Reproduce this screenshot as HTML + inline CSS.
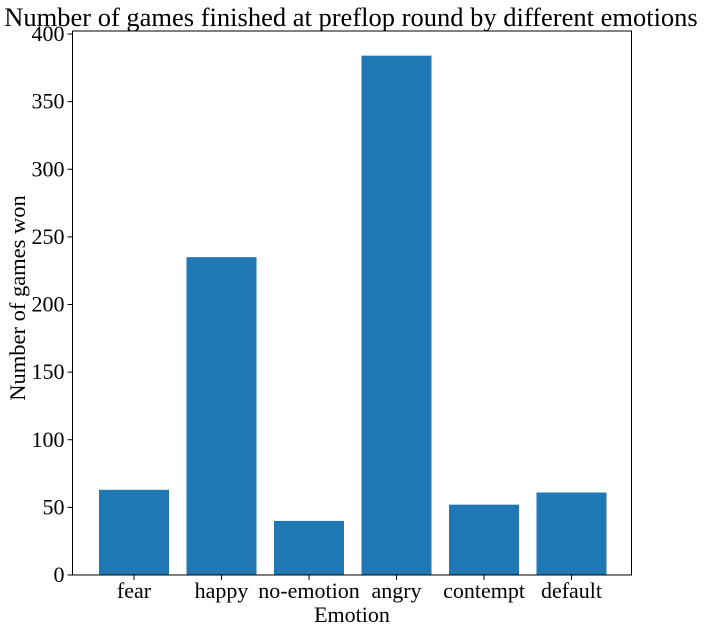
<!DOCTYPE html>
<html><head><meta charset="utf-8"><style>
body{margin:0;background:#fff;}
svg text{font-family:"Liberation Serif",serif;fill:#000;}
</style></head><body>
<svg id="chart" width="704" height="633" xmlns="http://www.w3.org/2000/svg">
<rect width="704" height="633" fill="#fff"/>
<text x="351" y="26" font-size="26.5" text-anchor="middle">Number of games finished at preflop round by different emotions</text>
<g id="plot"></g>
<text x="352" y="622" font-size="22" text-anchor="middle">Emotion</text>
<text transform="translate(25,298) rotate(-90)" font-size="22.5" text-anchor="middle">Number of games won</text>
</svg>
<script>
const categories=["fear","happy","no-emotion","angry","contempt","default"];
const values=[63,235,40,384,52,61];
const yTicks=[0,50,100,150,200,250,300,350,400];
const L=72.5,R=631.5,T=31,B=575;
const y=v=>B-v*(B-34)/400;
const x=i=>134+87.5*i;
const g=document.getElementById('plot');
const NS="http://www.w3.org/2000/svg";
function mk(t,a){const e=document.createElementNS(NS,t);for(const k in a)e.setAttribute(k,a[k]);g.appendChild(e);return e;}
values.forEach((v,i)=>{
 const r=mk('rect',{x:x(i)-35,y:y(v),width:70,height:B-y(v),fill:'#1f77b4'});
 
 
});
const ax=mk('rect',{x:L,y:T,width:R-L,height:B-T,fill:'none',stroke:'#000','stroke-width':1});


yTicks.forEach(t=>{
 mk('line',{x1:L-5,x2:L,y1:y(t),y2:y(t),stroke:'#000'});
 const tx=mk('text',{x:L-8,y:y(t)+7,'font-size':22,'text-anchor':'end'});
 tx.textContent=t;
 
 
});
categories.forEach((c,i)=>{
 mk('line',{x1:x(i),x2:x(i),y1:B,y2:B+5,stroke:'#000'});
 const tx=mk('text',{x:x(i),y:B+23,'font-size':22,'text-anchor':'middle'});
 tx.textContent=c;
 
 
});
</script>
</body></html>
